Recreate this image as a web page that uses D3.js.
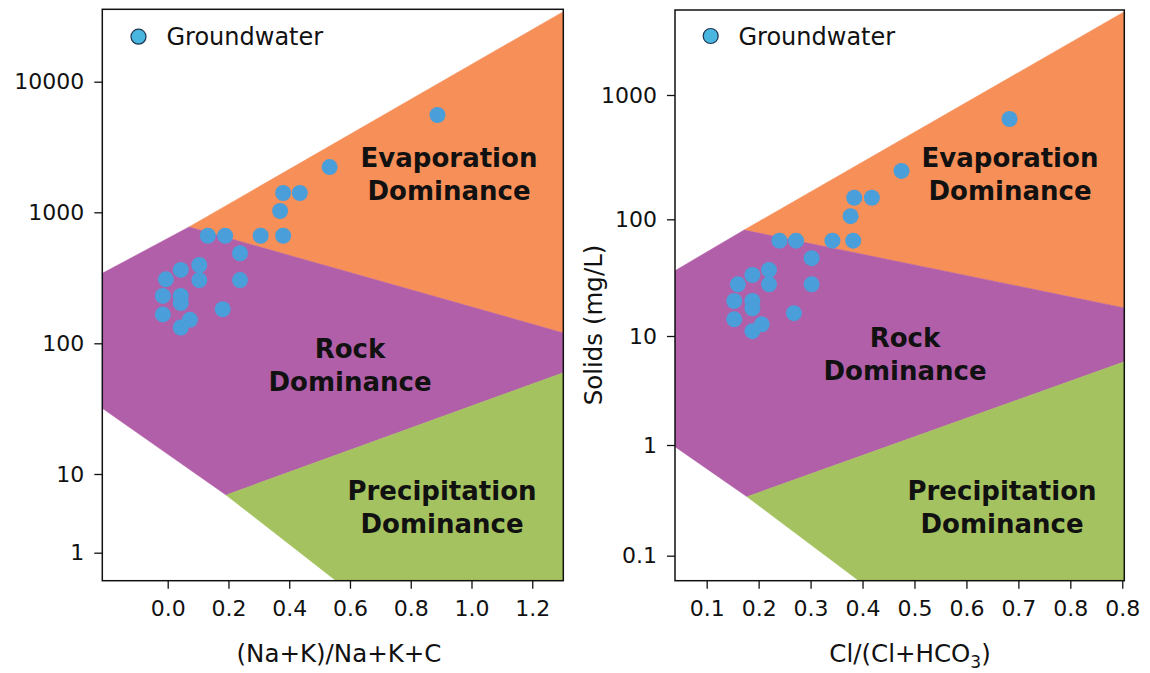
<!DOCTYPE html>
<html><head><meta charset="utf-8">
<script src="https://cdn.jsdelivr.net/npm/d3@7/dist/d3.min.js"></script>
<style>body{margin:0;background:#fff} svg text{font-family:"DejaVu Sans",sans-serif}</style>
</head><body><svg id="c" width="1150" height="673"></svg>
<script>
// ---------------- DATA ----------------
const seriesName = "Groundwater";

// Left panel: (Na+K)/(Na+K+Ca) vs TDS
const leftX = [0.888,0.533,0.380,0.435,0.370,0.132,0.189,0.306,0.380,0.238,0.238,0.104,0.104,0.043,-0.006,-0.016,0.043,0.043,-0.016,0.181,0.073,0.043];
const leftY = [5560,2220,1405,1405,1023,662,662,662,662,487,304,396,304,363,308,230,230,203,166,182,151,132];

// Right panel: Cl/(Cl+HCO3) vs TDS
const rightX = [0.683,0.475,0.384,0.418,0.377,0.240,0.272,0.342,0.382,0.302,0.302,0.220,0.220,0.188,0.160,0.153,0.188,0.188,0.153,0.268,0.206,0.188];
const rightY = [641,245,149,149,106,65.6,65.6,65.6,65.6,46.4,27.7,36.8,27.7,33.3,27.7,19.95,19.95,17.3,13.9,15.7,12.6,11.0];

// Tick values and labels
const leftXTicks = [0,0.2,0.4,0.6,0.8,1.0,1.2];
const leftXTickLabels = ["0.0","0.2","0.4","0.6","0.8","1.0","1.2"];
const leftYTicks = [1,10,100,1000,10000];
const leftYTickLabels = ["1","10","100","1000","10000"];
const rightXTicks = [0.1,0.2,0.3,0.4,0.5,0.6,0.7,0.8,0.9];
const rightXTickLabels = ["0.1","0.2","0.3","0.4","0.5","0.6","0.7","0.8","0.8"];
const rightYTicks = [0.1,1,10,100,1000];
const rightYTickLabels = ["0.1","1","10","100","1000"];

// Axis extents (data units)
const leftXDomain = [-0.2153, 1.3022];
const leftYDomain = [0.441, 35800];
const rightXDomain = [0.039, 0.9039];
const rightYDomain = [0.0594, 4830];

// Zone polygons (data units)
const leftEvap = [[0.070,773],[1.3022,34400],[1.3022,120]];
const leftRock = [[0.070,773],[-0.2153,342],[-0.2153,31.8],[0.192,5.41],[1.3022,59.6],[1.3022,120]];
const leftPrec = [[0.192,5.41],[1.3022,59.6],[1.3022,0.441],[0.554,0.441]];
const rightEvap = [[0.172,80.9],[0.9039,4680],[0.9039,17.4]];
const rightRock = [[0.172,80.9],[0.039,36.3],[0.039,0.965],[0.1776,0.341],[0.9039,5.81],[0.9039,17.4]];
const rightPrec = [[0.1776,0.341],[0.9039,5.81],[0.9039,0.0594],[0.393,0.0594]];

const zoneNames = [["Evaporation","Dominance"],["Rock","Dominance"],["Precipitation","Dominance"]];

// ---------------- STYLE / LAYOUT ----------------
const colors = {evap:"#f78f58", rock:"#b25fa9", prec:"#a4c25f", point:"#4a9ed9", legend:"#48b6de", legendEdge:"#1d3550", text:"#111"};

const panels = [
  { left:102.3, right:563.3, top:9.3, bottom:580.7,
    yTickPx:[552.7,474,343.3,212.3,81.7],
    xs:leftX, ys:leftY, xDomain:leftXDomain, yTicks:leftYTicks, yLabels:leftYTickLabels,
    xTicks:leftXTicks, xLabels:leftXTickLabels, polys:[leftEvap,leftRock,leftPrec],
    xTitle:"(Na+K)/Na+K+C", xTitleX:339, yTitle:null,
    zoneLabelPos:[[449,166.7],[350,358],[442,500]],
    legend:[138.5,36.7,166.5,45]},
  { left:675, right:1124.3, top:10, bottom:580.7,
    yTickPx:[555.7,445,336,219.3,95],
    xs:rightX, ys:rightY, xDomain:rightXDomain, yTicks:rightYTicks, yLabels:rightYTickLabels,
    xTicks:rightXTicks, xLabels:rightXTickLabels, polys:[rightEvap,rightRock,rightPrec],
    xTitle:"Cl/(Cl+HCO3)", xTitleX:910, yTitle:"Solids (mg/L)",
    zoneLabelPos:[[1010,166.7],[905,346.7],[1002,500]],
    legend:[710.7,36,738.5,45]}
];

const svg = d3.select("#c");

panels.forEach((p,pi)=>{
  const x = d3.scaleLinear().domain(p.xDomain).range([p.left,p.right]);
  const y = d3.scaleLog().domain(p.yTicks).range(p.yTickPx);

  const clipId = "clip"+pi;
  svg.append("clipPath").attr("id",clipId).append("rect")
    .attr("x",p.left).attr("y",p.top).attr("width",p.right-p.left).attr("height",p.bottom-p.top);

  const g = svg.append("g").attr("clip-path",`url(#${clipId})`);
  const line = d3.line().x(d=>x(d[0])).y(d=>y(d[1]));
  const fills = [colors.evap, colors.rock, colors.prec];
  p.polys.forEach((poly,i)=>{
    g.append("path").attr("d", line(poly)+"Z").attr("fill",fills[i]).attr("stroke",fills[i]).attr("stroke-width",0.5);
  });

  // points
  g.selectAll("circle.pt").data(p.xs.map((v,i)=>[v,p.ys[i]])).join("circle")
    .attr("class","pt").attr("cx",d=>x(d[0])).attr("cy",d=>y(d[1])).attr("r",8)
    .attr("fill",colors.point);

  // zone labels
  p.zoneLabelPos.forEach((pos,i)=>{
    const t = svg.append("text").attr("text-anchor","middle").attr("font-weight","bold")
      .attr("font-size",26).attr("fill",colors.text);
    zoneNames[i].forEach((s,j)=>{
      t.append("tspan").attr("x",pos[0]).attr("y",pos[1]+j*33.3).text(s);
    });
  });

  // frame
  svg.append("rect").attr("x",p.left).attr("y",p.top).attr("width",p.right-p.left).attr("height",p.bottom-p.top)
    .attr("fill","none").attr("stroke","#111").attr("stroke-width",1.5);

  // axes
  const xa = svg.append("g").attr("transform",`translate(0,${p.bottom})`)
    .call(d3.axisBottom(x).tickValues(p.xTicks).tickFormat((d,i)=>p.xLabels[i]).tickSize(8).tickPadding(12));
  const ya = svg.append("g").attr("transform",`translate(${p.left},0)`)
    .call(d3.axisLeft(y).tickValues(p.yTicks).tickFormat((d,i)=>p.yLabels[i]).tickSize(8).tickPadding(10));
  [xa,ya].forEach(a=>{
    a.select(".domain").remove();
    a.selectAll(".tick line").attr("stroke","#111").attr("stroke-width",1.3);
    a.selectAll(".tick text").attr("font-size",22).attr("fill","#111").attr("font-family","DejaVu Sans");
  });

  // x title
  const xt = svg.append("text").attr("x",p.xTitleX).attr("y",661.7).attr("text-anchor","middle")
    .attr("font-size",24.5).attr("fill","#111");
  if (p.xTitle.endsWith("HCO3)")) {
    xt.append("tspan").text("Cl/(Cl+HCO");
    xt.append("tspan").attr("font-size",17).attr("dy",6).text("3");
    xt.append("tspan").attr("dy",-6).text(")");
  } else xt.text(p.xTitle);

  if (p.yTitle) {
    svg.append("text").attr("transform",`translate(602,325) rotate(-90)`).attr("text-anchor","middle")
      .attr("font-size",24.5).attr("fill","#111").text(p.yTitle);
  }

  // legend
  svg.append("circle").attr("cx",p.legend[0]).attr("cy",p.legend[1]).attr("r",7.5)
    .attr("fill",colors.legend).attr("stroke",colors.legendEdge).attr("stroke-width",1.2);
  svg.append("text").attr("x",p.legend[2]).attr("y",p.legend[3]).attr("font-size",24)
    .attr("fill","#111").text(seriesName);
});
</script></body></html>
